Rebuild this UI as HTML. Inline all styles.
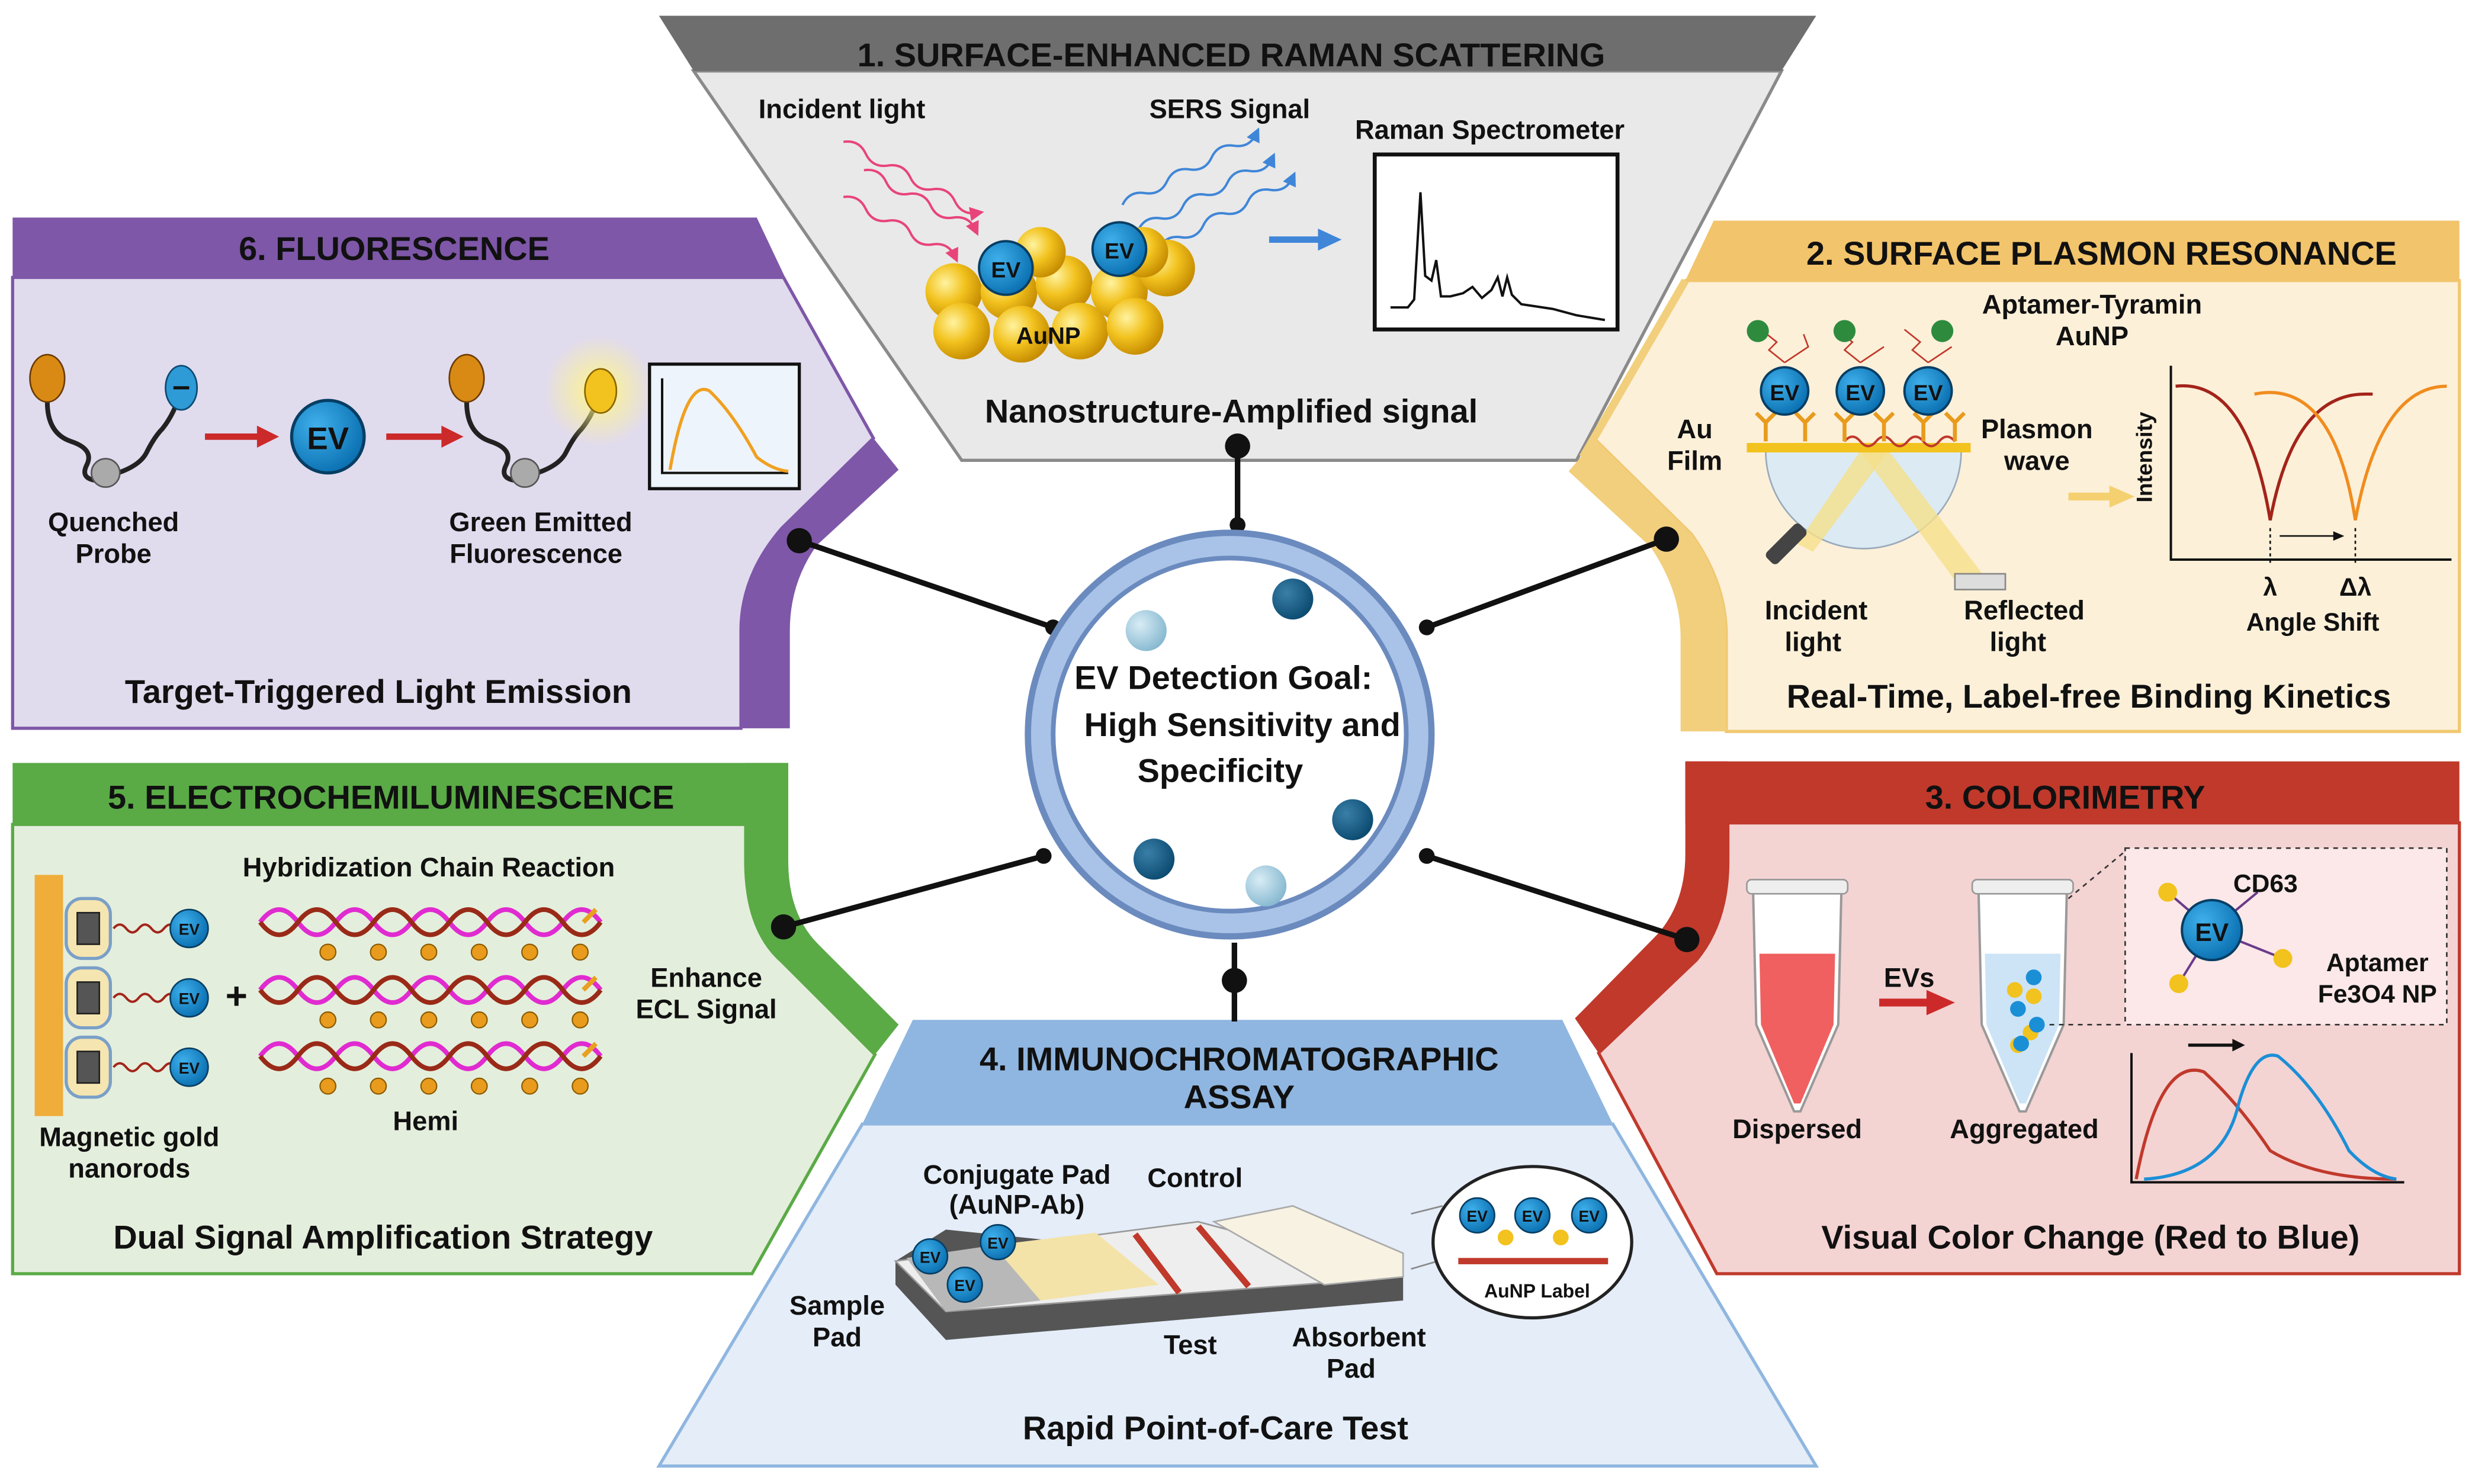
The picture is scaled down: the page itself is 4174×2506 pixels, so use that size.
<!DOCTYPE html>
<html><head><meta charset="utf-8"><style>
html,body{margin:0;padding:0;background:#fff;}
svg{display:block;}
text{font-family:"Liberation Sans",Arial,sans-serif;font-weight:bold;fill:#111;text-anchor:middle;}
</style></head><body>
<svg width="4174" height="2506" viewBox="0 0 1568 941.4" xmlns="http://www.w3.org/2000/svg">
<defs>
<radialGradient id="gold" cx="35%" cy="35%" r="70%"><stop offset="0" stop-color="#fff3a0"/><stop offset="0.5" stop-color="#f2c21e"/><stop offset="1" stop-color="#c48a00"/></radialGradient>
<radialGradient id="ev" cx="35%" cy="35%" r="70%"><stop offset="0" stop-color="#3fb0ec"/><stop offset="1" stop-color="#0a6fb0"/></radialGradient>
<radialGradient id="dk" cx="35%" cy="35%" r="70%"><stop offset="0" stop-color="#3a7fa8"/><stop offset="1" stop-color="#0b4a70"/></radialGradient>
<radialGradient id="lt" cx="35%" cy="35%" r="70%"><stop offset="0" stop-color="#d8ecf5"/><stop offset="1" stop-color="#86b8d0"/></radialGradient>
<radialGradient id="glow" cx="50%" cy="50%" r="50%"><stop offset="0" stop-color="#fff58a"/><stop offset="1" stop-color="#fff58a" stop-opacity="0"/></radialGradient>
<marker id="mp" markerWidth="6" markerHeight="6" refX="3" refY="3" orient="auto"><path d="M0,0 L6,3 L0,6 Z" fill="#e8447a"/></marker>
<marker id="mb" markerWidth="6" markerHeight="6" refX="3" refY="3" orient="auto"><path d="M0,0 L6,3 L0,6 Z" fill="#3f86d8"/></marker>
</defs>

<!-- TOP PANEL -->
<polygon points="440,45 1130,45 1000,292 610,292" fill="#e9e9e9" stroke="#8a8a8a" stroke-width="2"/>
<polygon points="418,10 1152,10 1130,45 440,45" fill="#6e6e6e"/>
<text x="781" y="42" font-size="21" fill="#1a1a1a">1. SURFACE-ENHANCED RAMAN SCATTERING</text>
<text x="534" y="75" font-size="17">Incident light</text>
<text x="780" y="75" font-size="17">SERS Signal</text>
<g fill="none" stroke="#e8447a" stroke-width="1.5" marker-end="url(#mp)">
<path d="M535,90 q8,-6 16,0 t16,0 t16,0 t16,0 t16,0 t16,0" transform="rotate(28 535 90)"/>
<path d="M548,108 q8,-6 16,0 t16,0 t16,0 t16,0 t16,0" transform="rotate(28 548 108)"/>
<path d="M535,125 q8,-6 16,0 t16,0 t16,0 t16,0 t16,0" transform="rotate(28 535 125)"/>
</g>
<g fill="none" stroke="#3f86d8" stroke-width="1.5" marker-end="url(#mb)">
<path d="M712,130 q8,-6 16,0 t16,0 t16,0 t16,0 t16,0 t16,0" transform="rotate(-28 712 130)"/>
<path d="M722,146 q8,-6 16,0 t16,0 t16,0 t16,0 t16,0 t16,0" transform="rotate(-28 722 146)"/>
<path d="M735,158 q8,-6 16,0 t16,0 t16,0 t16,0 t16,0 t16,0" transform="rotate(-28 735 158)"/>
</g>
<g fill="url(#gold)">
<circle cx="605" cy="185" r="18"/><circle cx="640" cy="185" r="18"/><circle cx="675" cy="180" r="18"/><circle cx="710" cy="185" r="18"/><circle cx="740" cy="170" r="18"/>
<circle cx="610" cy="210" r="18"/><circle cx="648" cy="212" r="18"/><circle cx="685" cy="210" r="18"/><circle cx="720" cy="207" r="18"/>
<circle cx="660" cy="160" r="16"/><circle cx="725" cy="160" r="16"/>
</g>
<circle cx="638" cy="170" r="17" fill="url(#ev)" stroke="#073e63" stroke-width="1.5"/><text x="638" y="176" font-size="14" fill="#fff">EV</text>
<circle cx="710" cy="158" r="17" fill="url(#ev)" stroke="#073e63" stroke-width="1.5"/><text x="710" y="164" font-size="14" fill="#fff">EV</text>
<text x="665" y="218" font-size="15">AuNP</text>
<line x1="805" y1="152" x2="838" y2="152" stroke="#3f86d8" stroke-width="4"/><polygon points="836,145 851,152 836,159" fill="#3f86d8"/>
<text x="945" y="88" font-size="17">Raman Spectrometer</text>
<rect x="872" y="98" width="154" height="111" fill="#fff" stroke="#111" stroke-width="2.5"/>
<polyline points="882,195 893,195 897,190 901,122 904,175 908,178 911,165 914,188 920,188 928,186 934,182 940,189 946,184 950,176 953,188 956,176 959,187 965,193 985,196 1000,200 1018,203" fill="none" stroke="#111" stroke-width="1.5"/>
<text x="781" y="268" font-size="21">Nanostructure-Amplified signal</text>

<!-- PANEL 6 -->
<path d="M8,176 L497,176 L554,278 L496,335 Q470,365 470,400 L470,462 L8,462 Z" fill="#e1dbee" stroke="#7e57a8" stroke-width="2"/>
<path d="M554,278 L570,298 L518,346 Q501,370 501,400 L501,462 L470,462 L470,400 Q470,365 495,335 Z" fill="#7e57a8"/>
<path d="M8,138 L480,138 L498,176 L8,176 Z" fill="#7e57a8"/>
<text x="250" y="165" font-size="21">6. FLUORESCENCE</text>
<g fill="none" stroke="#222" stroke-width="3">
<path d="M30,255 q0,20 15,25 q15,5 10,15 q-5,10 10,10 M68,302 q20,-5 25,-15 q5,-10 10,-15 q8,-10 12,-25"/>
<path d="M296,255 q0,20 15,25 q15,5 10,15 q-5,10 10,10 M334,302 q20,-5 25,-15 q5,-10 10,-15 q8,-10 12,-25"/>
</g>
<ellipse cx="30" cy="240" rx="11" ry="15" fill="#d98a14" stroke="#6b3b00"/>
<circle cx="67" cy="300" r="9" fill="#aaa" stroke="#555"/>
<ellipse cx="115" cy="246" rx="10" ry="14" fill="#2e9ad6" stroke="#0b4a70"/><line x1="110" y1="246" x2="120" y2="246" stroke="#111" stroke-width="2"/>
<line x1="130" y1="277" x2="165" y2="277" stroke="#cc2a2a" stroke-width="4"/><polygon points="163,270 177,277 163,284" fill="#cc2a2a"/>
<circle cx="208" cy="277" r="23" fill="url(#ev)" stroke="#073e63" stroke-width="2"/><text x="208" y="285" font-size="20" fill="#fff">EV</text>
<line x1="245" y1="277" x2="282" y2="277" stroke="#cc2a2a" stroke-width="4"/><polygon points="280,270 294,277 280,284" fill="#cc2a2a"/>
<ellipse cx="296" cy="240" rx="11" ry="15" fill="#d98a14" stroke="#6b3b00"/>
<circle cx="333" cy="300" r="9" fill="#aaa" stroke="#555"/>
<circle cx="380" cy="248" r="35" fill="url(#glow)"/>
<ellipse cx="381" cy="248" rx="10" ry="14" fill="#f2c21e" stroke="#8a6500"/>
<rect x="412" y="231" width="95" height="79" fill="#eef4fb" stroke="#111" stroke-width="2"/>
<polyline points="420,240 420,300 500,300" fill="none" stroke="#111" stroke-width="1.5"/>
<path d="M425,298 Q435,240 450,248 Q465,262 480,290 Q490,298 500,299" fill="none" stroke="#f0a020" stroke-width="2"/>
<text x="72" y="337" font-size="17">Quenched</text><text x="72" y="357" font-size="17">Probe</text>
<text x="343" y="337" font-size="17">Green Emitted</text><text x="340" y="357" font-size="17">Fluorescence</text>
<text x="240" y="446" font-size="21">Target-Triggered Light Emission</text>

<!-- PANEL 2 -->
<path d="M1069,178 L1560,178 L1560,464 L1095,464 L1095,403 Q1095,370 1073,339 L1012,279 Z" fill="#fdf0d9" stroke="#f0c870" stroke-width="2"/>
<path d="M995,299 L1012,279 L1073,339 Q1095,370 1095,403 L1095,464 L1066,464 L1066,404 Q1066,375 1047,347 Z" fill="#f2cf7c"/>
<line x1="1069" y1="178" x2="1004" y2="290" stroke="#f2cf7c" stroke-width="5"/>
<path d="M1087,140 L1560,140 L1560,178 L1069,178 Z" fill="#f2c46b"/>
<text x="1333" y="168" font-size="21">2. SURFACE PLASMON RESONANCE</text>
<text x="1327" y="199" font-size="17">Aptamer-Tyramin</text><text x="1327" y="219" font-size="17">AuNP</text>
<g stroke="#c0392b" stroke-width="1" fill="none">
<path d="M1132,230 l-10,-8 l5,-5 l-10,-8 M1132,230 l15,-10 l-3,-8 M1180,230 l-10,-8 l5,-5 l-10,-8 M1180,230 l15,-10 M1223,230 l-10,-8 l5,-5 l-10,-8 M1223,230 l15,-10"/>
</g>
<circle cx="1115" cy="210" r="7" fill="#2e8b3e"/><circle cx="1170" cy="210" r="7" fill="#2e8b3e"/><circle cx="1232" cy="210" r="7" fill="#2e8b3e"/>
<path d="M1120,286 A62,62 0 0 0 1244,286 Z" fill="#dceaf3" stroke="#9ab" stroke-width="1"/>
<polygon points="1140,345 1180,286 1198,286 1150,350" fill="#f5e08a" opacity="0.8"/>
<polygon points="1180,286 1198,286 1262,370 1245,375" fill="#f5e08a" opacity="0.8"/>
<rect x="1108" y="281" width="142" height="6" fill="#f2c21e"/>
<path d="M1170,280 q5,-6 10,0 t10,0 t10,0 t10,0 t10,0 t10,0 t10,0" fill="none" stroke="#c0392b" stroke-width="1.5"/>
<g stroke="#e89b1c" stroke-width="2.5" fill="none">
<path d="M1120,280 v-12 M1114,262 l6,6 l6,-6 M1145,280 v-12 M1139,262 l6,6 l6,-6 M1170,280 v-12 M1164,262 l6,6 l6,-6 M1195,280 v-12 M1189,262 l6,6 l6,-6 M1220,280 v-12 M1214,262 l6,6 l6,-6 M1240,280 v-12 M1234,262 l6,6 l6,-6"/>
</g>
<circle cx="1132" cy="248" r="15" fill="url(#ev)" stroke="#073e63" stroke-width="1.5"/><text x="1132" y="254" font-size="14" fill="#fff">EV</text>
<circle cx="1180" cy="248" r="15" fill="url(#ev)" stroke="#073e63" stroke-width="1.5"/><text x="1180" y="254" font-size="14" fill="#fff">EV</text>
<circle cx="1223" cy="248" r="15" fill="url(#ev)" stroke="#073e63" stroke-width="1.5"/><text x="1223" y="254" font-size="14" fill="#fff">EV</text>
<rect x="1118" y="340" width="30" height="10" rx="3" fill="#444" transform="rotate(-45 1133 345)"/>
<rect x="1240" y="364" width="32" height="10" fill="#ddd" stroke="#888"/>
<text x="1075" y="278" font-size="17">Au</text><text x="1075" y="298" font-size="17">Film</text>
<text x="1292" y="278" font-size="17">Plasmon</text><text x="1292" y="298" font-size="17">wave</text>
<text x="1152" y="393" font-size="17">Incident</text><text x="1150" y="413" font-size="17">light</text>
<text x="1284" y="393" font-size="17">Reflected</text><text x="1280" y="413" font-size="17">light</text>
<line x1="1312" y1="315" x2="1340" y2="315" stroke="#f5d070" stroke-width="5"/><polygon points="1338,308 1354,315 1338,322" fill="#f5d070"/>
<polyline points="1377,232 1377,355 1555,355" fill="none" stroke="#111" stroke-width="1.5"/>
<text x="1365" y="290" font-size="14" transform="rotate(-90 1365 290)">Intensity</text>
<path d="M1380,245 Q1425,240 1440,330 Q1455,250 1500,250 L1505,250" fill="none" stroke="#a3241a" stroke-width="2"/>
<path d="M1430,250 Q1480,240 1494,330 Q1510,245 1552,245" fill="none" stroke="#f08c1e" stroke-width="2"/>
<line x1="1446" y1="340" x2="1482" y2="340" stroke="#111"/><polygon points="1480,337 1487,340 1480,343" fill="#111"/>
<line x1="1440" y1="335" x2="1440" y2="358" stroke="#111" stroke-dasharray="2,2"/><line x1="1494" y1="335" x2="1494" y2="358" stroke="#111" stroke-dasharray="2,2"/>
<text x="1440" y="378" font-size="16">λ</text><text x="1494" y="378" font-size="16">Δλ</text>
<text x="1467" y="400" font-size="16">Angle Shift</text>
<text x="1325" y="449" font-size="21">Real-Time, Label-free Binding Kinetics</text>

<!-- PANEL 5 -->
<path d="M8,523 L473,523 L473,546 Q473,590 496,610 L555,669 L477,808 L8,808 Z" fill="#e4eedc" stroke="#5aaa46" stroke-width="2"/>
<path d="M473,484 L500,484 L500,546 Q500,580 519,599 L570,650 L555,669 L496,610 Q473,590 473,546 Z" fill="#5aaa46"/>
<path d="M8,484 L500,484 L500,523 L8,523 Z" fill="#5aaa46"/>
<text x="248" y="513" font-size="21">5. ELECTROCHEMILUMINESCENCE</text>
<text x="272" y="556" font-size="17">Hybridization Chain Reaction</text>
<rect x="22" y="555" width="18" height="153" fill="#f0ad3a"/>
<g>
<rect x="42" y="570" width="28" height="38" rx="10" fill="#f5e5b0" stroke="#7aa0c8" stroke-width="2"/><rect x="49" y="579" width="14" height="20" fill="#555" stroke="#222"/>
<rect x="42" y="614" width="28" height="38" rx="10" fill="#f5e5b0" stroke="#7aa0c8" stroke-width="2"/><rect x="49" y="623" width="14" height="20" fill="#555" stroke="#222"/>
<rect x="42" y="658" width="28" height="38" rx="10" fill="#f5e5b0" stroke="#7aa0c8" stroke-width="2"/><rect x="49" y="667" width="14" height="20" fill="#555" stroke="#222"/>
</g>
<g fill="none" stroke="#a3241a" stroke-width="1.5">
<path d="M72,589 q4,-5 8,0 t8,0 t8,0 t8,0 t8,0"/><path d="M72,633 q4,-5 8,0 t8,0 t8,0 t8,0 t8,0"/><path d="M72,677 q4,-5 8,0 t8,0 t8,0 t8,0 t8,0"/>
</g>
<circle cx="120" cy="589" r="12" fill="url(#ev)" stroke="#073e63"/><text x="120" y="593" font-size="10" fill="#fff">EV</text>
<circle cx="120" cy="633" r="12" fill="url(#ev)" stroke="#073e63"/><text x="120" y="637" font-size="10" fill="#fff">EV</text>
<circle cx="120" cy="677" r="12" fill="url(#ev)" stroke="#073e63"/><text x="120" y="681" font-size="10" fill="#fff">EV</text>
<text x="150" y="640" font-size="24">+</text>
<g fill="none" stroke-width="3">
<path d="M165,585 q12,-16 24,0 t24,0 t24,0 t24,0 t24,0 t24,0 t24,0 t24,0 t24,0" stroke="#e02bd0"/>
<path d="M165,585 q12,16 24,0 t24,0 t24,0 t24,0 t24,0 t24,0 t24,0 t24,0 t24,0" stroke="#9a2a18"/>
<path d="M165,628 q12,-16 24,0 t24,0 t24,0 t24,0 t24,0 t24,0 t24,0 t24,0 t24,0" stroke="#e02bd0"/>
<path d="M165,628 q12,16 24,0 t24,0 t24,0 t24,0 t24,0 t24,0 t24,0 t24,0 t24,0" stroke="#9a2a18"/>
<path d="M165,670 q12,-16 24,0 t24,0 t24,0 t24,0 t24,0 t24,0 t24,0 t24,0 t24,0" stroke="#e02bd0"/>
<path d="M165,670 q12,16 24,0 t24,0 t24,0 t24,0 t24,0 t24,0 t24,0 t24,0 t24,0" stroke="#9a2a18"/>
<path d="M370,585 l8,-8 M370,628 l8,-8 M370,670 l8,-8" stroke="#e8a020"/>
</g>
<g fill="#e89b1c" stroke="#8a5a00" stroke-width="0.8">
<circle cx="208" cy="604" r="5"/><circle cx="240" cy="604" r="5"/><circle cx="272" cy="604" r="5"/><circle cx="304" cy="604" r="5"/><circle cx="336" cy="604" r="5"/><circle cx="368" cy="604" r="5"/>
<circle cx="208" cy="647" r="5"/><circle cx="240" cy="647" r="5"/><circle cx="272" cy="647" r="5"/><circle cx="304" cy="647" r="5"/><circle cx="336" cy="647" r="5"/><circle cx="368" cy="647" r="5"/>
<circle cx="208" cy="689" r="5"/><circle cx="240" cy="689" r="5"/><circle cx="272" cy="689" r="5"/><circle cx="304" cy="689" r="5"/><circle cx="336" cy="689" r="5"/><circle cx="368" cy="689" r="5"/>
</g>
<text x="448" y="626" font-size="17">Enhance</text><text x="448" y="646" font-size="17">ECL Signal</text>
<text x="270" y="717" font-size="17">Hemi</text>
<text x="82" y="727" font-size="17">Magnetic gold</text><text x="82" y="747" font-size="17">nanorods</text>
<text x="243" y="792" font-size="21">Dual Signal Amplification Strategy</text>

<!-- PANEL 3 -->
<path d="M1096,522 L1560,522 L1560,808 L1089,808 L1014,668 L1076,609 Q1096,585 1096,546 Z" fill="#f4d3d3" stroke="#c0392b" stroke-width="2"/>
<path d="M1069,483 L1096,483 L1096,546 Q1096,585 1076,609 L1014,668 L999,646 L1052,592 Q1069,572 1069,542 Z" fill="#c0392b"/>
<path d="M1069,483 L1560,483 L1560,522 L1069,522 Z" fill="#c0392b"/>
<text x="1310" y="513" font-size="21" fill="#111">3. COLORIMETRY</text>
<path d="M1112,565 L1168,565 L1166,650 L1142,705 L1138,705 L1114,650 Z" fill="#fff" stroke="#999" stroke-width="1.5"/>
<path d="M1116,605 L1164,605 L1163,650 L1142,700 L1138,700 L1117,650 Z" fill="#f06060"/>
<rect x="1108" y="558" width="64" height="9" rx="3" fill="#eee" stroke="#999"/>
<path d="M1255,565 L1311,565 L1309,650 L1285,705 L1281,705 L1257,650 Z" fill="#fff" stroke="#999" stroke-width="1.5"/>
<path d="M1259,605 L1307,605 L1306,650 L1285,700 L1281,700 L1260,650 Z" fill="#cde4f7"/>
<rect x="1251" y="558" width="64" height="9" rx="3" fill="#eee" stroke="#999"/>
<g fill="#f2c21e"><circle cx="1278" cy="628" r="5"/><circle cx="1290" cy="632" r="5"/><circle cx="1288" cy="655" r="5"/><circle cx="1280" cy="663" r="5"/></g>
<g fill="#1b8fd6"><circle cx="1290" cy="620" r="5"/><circle cx="1280" cy="640" r="5"/><circle cx="1292" cy="650" r="5"/><circle cx="1282" cy="662" r="5"/></g>
<line x1="1192" y1="636" x2="1225" y2="636" stroke="#cc2a2a" stroke-width="5"/><polygon points="1222,628 1240,636 1222,644" fill="#cc2a2a"/>
<text x="1211" y="626" font-size="17">EVs</text>
<rect x="1348" y="538" width="204" height="112" fill="#fce8e8" stroke="#333" stroke-dasharray="3,3"/>
<line x1="1312" y1="570" x2="1348" y2="540" stroke="#333" stroke-dasharray="3,3"/><line x1="1300" y1="650" x2="1348" y2="650" stroke="#333" stroke-dasharray="3,3"/>
<g stroke="#6a3a8a" stroke-width="1.5"><line x1="1403" y1="590" x2="1375" y2="566"/><line x1="1403" y1="590" x2="1382" y2="624"/><line x1="1403" y1="590" x2="1448" y2="608"/><line x1="1403" y1="590" x2="1432" y2="566"/></g>
<circle cx="1375" cy="566" r="6" fill="#f2c21e"/><circle cx="1382" cy="624" r="6" fill="#f2c21e"/><circle cx="1448" cy="608" r="6" fill="#f2c21e"/>
<circle cx="1403" cy="590" r="19" fill="url(#ev)" stroke="#073e63" stroke-width="1.5"/><text x="1403" y="597" font-size="16" fill="#fff">EV</text>
<text x="1437" y="566" font-size="16">CD63</text>
<text x="1508" y="616" font-size="16">Aptamer</text><text x="1508" y="636" font-size="16">Fe3O4 NP</text>
<polyline points="1352,668 1352,750 1525,750" fill="none" stroke="#111" stroke-width="1.5"/>
<path d="M1355,748 Q1370,670 1398,680 Q1420,700 1440,730 Q1470,748 1520,748" fill="none" stroke="#c0392b" stroke-width="2"/>
<path d="M1360,748 Q1410,745 1420,700 Q1430,665 1445,670 Q1470,690 1490,730 Q1505,746 1520,748" fill="none" stroke="#1b8fd6" stroke-width="2"/>
<line x1="1388" y1="663" x2="1418" y2="663" stroke="#111" stroke-width="2"/><polygon points="1416,659 1424,663 1416,667" fill="#111"/>
<text x="1140" y="722" font-size="17">Dispersed</text><text x="1284" y="722" font-size="17">Aggregated</text>
<text x="1326" y="792" font-size="21">Visual Color Change (Red to Blue)</text>

<!-- PANEL 4 -->
<polygon points="547,713 1023,713 1152,930 418,930" fill="#e4edf8" stroke="#8fb6e0" stroke-width="2"/>
<polygon points="579,647 991,647 1023,713 547,713" fill="#8fb6e0"/>
<text x="786" y="679" font-size="21">4. IMMUNOCHROMATOGRAPHIC</text><text x="786" y="703" font-size="21">ASSAY</text>
<polygon points="568,800 600,780 890,810 890,825 600,850 568,815" fill="#555"/>
<polygon points="568,800 760,775 890,810 600,832" fill="#eee" stroke="#999"/>
<polygon points="575,798 630,790 660,825 600,832" fill="#b8b8b8"/>
<polygon points="630,790 695,782 735,815 660,825" fill="#f3e3a8"/>
<polygon points="770,775 820,765 890,795 890,810 840,815" fill="#f7f2e2" stroke="#aaa"/>
<line x1="720" y1="783" x2="748" y2="820" stroke="#c0392b" stroke-width="4"/>
<line x1="760" y1="778" x2="792" y2="816" stroke="#c0392b" stroke-width="4"/>
<circle cx="590" cy="797" r="11" fill="url(#ev)" stroke="#073e63"/><text x="590" y="801" font-size="10" fill="#fff">EV</text>
<circle cx="612" cy="815" r="11" fill="url(#ev)" stroke="#073e63"/><text x="612" y="819" font-size="10" fill="#fff">EV</text>
<circle cx="633" cy="788" r="11" fill="url(#ev)" stroke="#073e63"/><text x="633" y="792" font-size="10" fill="#fff">EV</text>
<line x1="895" y1="805" x2="912" y2="800" stroke="#888"/><line x1="895" y1="770" x2="915" y2="765" stroke="#888"/>
<ellipse cx="972" cy="788" rx="63" ry="48" fill="#fff" stroke="#222" stroke-width="2"/>
<rect x="925" y="798" width="95" height="4" fill="#c0392b"/>
<g fill="#f2c21e"><circle cx="955" cy="785" r="5"/><circle cx="990" cy="785" r="5"/></g>
<circle cx="937" cy="771" r="11" fill="url(#ev)" stroke="#073e63"/><text x="937" y="775" font-size="10" fill="#fff">EV</text>
<circle cx="972" cy="771" r="11" fill="url(#ev)" stroke="#073e63"/><text x="972" y="775" font-size="10" fill="#fff">EV</text>
<circle cx="1008" cy="771" r="11" fill="url(#ev)" stroke="#073e63"/><text x="1008" y="775" font-size="10" fill="#fff">EV</text>
<text x="975" y="823" font-size="12">AuNP Label</text>
<text x="645" y="751" font-size="17">Conjugate Pad</text><text x="645" y="770" font-size="17">(AuNP-Ab)</text>
<text x="758" y="753" font-size="17">Control</text>
<text x="531" y="834" font-size="17">Sample</text><text x="531" y="854" font-size="17">Pad</text>
<text x="755" y="859" font-size="17">Test</text>
<text x="862" y="854" font-size="17">Absorbent</text><text x="857" y="874" font-size="17">Pad</text>
<text x="771" y="913" font-size="21">Rapid Point-of-Care Test</text>

<!-- CONNECTORS -->
<g stroke="#111" stroke-width="3.5">
<line x1="785" y1="283" x2="785" y2="333"/>
<line x1="507" y1="343" x2="668" y2="398"/>
<line x1="1057" y1="342" x2="905" y2="398"/>
<line x1="497" y1="588" x2="662" y2="543"/>
<line x1="1070" y1="596" x2="905" y2="543"/>
<line x1="783" y1="598" x2="783" y2="648"/>
</g>
<g fill="#111">
<circle cx="785" cy="283" r="8"/><circle cx="785" cy="333" r="5"/>
<circle cx="507" cy="343" r="8"/><circle cx="668" cy="398" r="5"/>
<circle cx="1057" cy="342" r="8"/><circle cx="905" cy="398" r="5"/>
<circle cx="497" cy="588" r="8"/><circle cx="662" cy="543" r="5"/>
<circle cx="1070" cy="596" r="8"/><circle cx="905" cy="543" r="5"/>
<circle cx="783" cy="622" r="8"/>
</g>

<!-- CENTER -->
<circle cx="780" cy="466" r="128" fill="#a9c3e8" stroke="#6b8bbf" stroke-width="4"/>
<circle cx="780" cy="466" r="112" fill="#fff" stroke="#6b8bbf" stroke-width="3"/>
<circle cx="727" cy="400" r="13" fill="url(#lt)"/>
<circle cx="820" cy="380" r="13" fill="url(#dk)"/>
<circle cx="858" cy="520" r="13" fill="url(#dk)"/>
<circle cx="732" cy="545" r="13" fill="url(#dk)"/>
<circle cx="803" cy="562" r="13" fill="url(#lt)"/>
<text x="776" y="437" font-size="21">EV Detection Goal:</text>
<text x="788" y="467" font-size="21">High Sensitivity and</text>
<text x="774" y="496" font-size="21">Specificity</text>
</svg>
</body></html>
